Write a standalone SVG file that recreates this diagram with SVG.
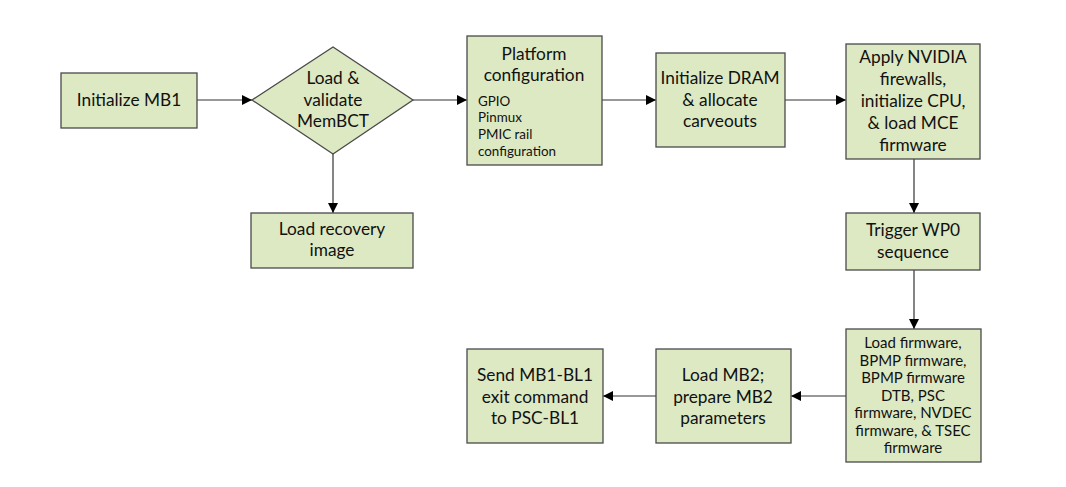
<svg xmlns="http://www.w3.org/2000/svg" width="1066" height="487" viewBox="0 0 1066 487">
<defs>
<marker id="ah" viewBox="0 0 10 10" refX="10" refY="5" markerWidth="10" markerHeight="10" markerUnits="userSpaceOnUse" orient="auto">
<path d="M0,0 L10,5 L0,10 z" fill="#000"/>
</marker>
<style>
.n{fill:#dde9c3;stroke:#4a4a4a;stroke-width:1.3}
.t{font-family:Lato,"Liberation Sans",sans-serif;font-size:17.3px;fill:#111;text-anchor:middle}
.s{font-family:Lato,"Liberation Sans",sans-serif;font-size:13.4px;fill:#111}
.m{font-family:Lato,"Liberation Sans",sans-serif;font-size:15px;fill:#111;text-anchor:middle}
.c{stroke:#333;stroke-width:1.2;fill:none;marker-end:url(#ah)}
</style>
</defs>
<rect width="1066" height="487" fill="#fff"/>
<g id="connectors">
<line class="c" x1="197" y1="100" x2="252" y2="100"/>
<line class="c" x1="413" y1="100" x2="467" y2="100"/>
<line class="c" x1="333" y1="154" x2="333" y2="213"/>
<line class="c" x1="602" y1="100" x2="656" y2="100"/>
<line class="c" x1="785" y1="100" x2="846" y2="100"/>
<line class="c" x1="914" y1="159" x2="914" y2="213"/>
<line class="c" x1="914" y1="270" x2="914" y2="329"/>
<line class="c" x1="846" y1="396" x2="791" y2="396"/>
<line class="c" x1="656" y1="396" x2="603" y2="396"/>
</g>
<g id="init-mb1">
<rect class="n" x="61" y="73" width="136" height="55"/>
<text class="t" x="129" y="106">Initialize MB1</text>
</g>
<g id="load-membct">
<polygon class="n" points="252,100 333,47 413,100 333,154"/>
<text class="t" x="333" y="84">Load &amp;</text>
<text class="t" x="333" y="106">validate</text>
<text class="t" x="333" y="127">MemBCT</text>
</g>
<g id="load-recovery">
<rect class="n" x="251" y="213" width="162" height="55"/>
<text class="t" x="332" y="235">Load recovery</text>
<text class="t" x="332" y="256">image</text>
</g>
<g id="platform-config">
<rect class="n" x="467" y="36" width="135" height="129"/>
<text class="t" x="534" y="60">Platform</text>
<text class="t" x="534" y="81">configuration</text>
<text class="s" x="478" y="106">GPIO</text>
<text class="s" x="478" y="122">Pinmux</text>
<text class="s" x="478" y="139">PMIC rail</text>
<text class="s" x="478" y="156">configuration</text>
</g>
<g id="init-dram">
<rect class="n" x="656" y="53" width="129" height="94"/>
<text class="t" x="720" y="84">Initialize DRAM</text>
<text class="t" x="720" y="106">&amp; allocate</text>
<text class="t" x="720" y="127">carveouts</text>
</g>
<g id="apply-firewalls">
<rect class="n" x="846" y="44" width="134" height="115"/>
<text class="t" x="913" y="63">Apply NVIDIA</text>
<text class="t" x="913" y="85">firewalls,</text>
<text class="t" x="913" y="107">initialize CPU,</text>
<text class="t" x="913" y="129">&amp; load MCE</text>
<text class="t" x="913" y="151">firmware</text>
</g>
<g id="trigger-wp0">
<rect class="n" x="846" y="213" width="134" height="57"/>
<text class="t" x="913" y="236">Trigger WP0</text>
<text class="t" x="913" y="258">sequence</text>
</g>
<g id="load-firmware">
<rect class="n" x="846" y="329" width="135" height="133"/>
<text class="m" x="913" y="348">Load firmware,</text>
<text class="m" x="913" y="366">BPMP firmware,</text>
<text class="m" x="913" y="383">BPMP firmware</text>
<text class="m" x="913" y="401">DTB, PSC</text>
<text class="m" x="913" y="418">firmware, NVDEC</text>
<text class="m" x="913" y="436">firmware, &amp; TSEC</text>
<text class="m" x="913" y="453">firmware</text>
</g>
<g id="load-mb2">
<rect class="n" x="656" y="349" width="135" height="94"/>
<text class="t" x="723" y="381">Load MB2;</text>
<text class="t" x="723" y="403">prepare MB2</text>
<text class="t" x="723" y="424">parameters</text>
</g>
<g id="send-exit">
<rect class="n" x="467" y="349" width="136" height="94"/>
<text class="t" x="535" y="381">Send MB1-BL1</text>
<text class="t" x="535" y="403">exit command</text>
<text class="t" x="535" y="424">to PSC-BL1</text>
</g>
</svg>
